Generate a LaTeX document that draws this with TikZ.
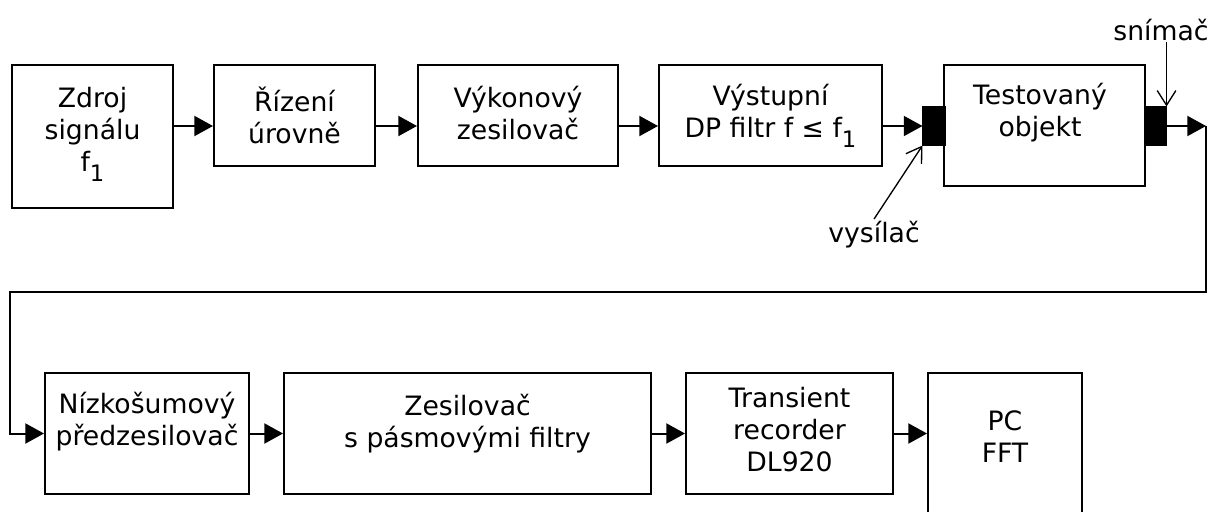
\documentclass[tikz,border=0pt]{standalone}
\usepackage{fontspec}
\setmainfont{DejaVu Sans}
\usetikzlibrary{arrows.meta}
% lowered full-height index "1"
\newcommand\subone{\raisebox{-7.5pt}{\fontsize{17}{17}\selectfont 1}}
\begin{document}
\begin{tikzpicture}[x=0.75pt,y=-0.75pt,
  box/.style={draw, line width=1.5pt, inner sep=0pt},
  sz/.style 2 args={minimum width=#1*0.75pt, minimum height=#2*0.75pt},
  txt/.style={align=center, inner sep=0pt, font=\fontsize{20}{24}\selectfont},
  lbl/.style={inner sep=1pt, font=\fontsize{20}{24}\selectfont},
  transducer/.style={fill=black, draw=black, line width=0.8pt, inner sep=0pt},
  flow/.style={line width=1.5pt, -{Triangle[length=14pt,width=15pt]}},
  wire/.style={line width=1.5pt},
  pointer/.style={line width=1pt, -{Straight Barb[length=11pt,width=14pt]}}]

\path[use as bounding box] (0,0) rectangle (1213,511);
\clip (0,0) rectangle (1213,511);

% upper chain
\node[box, sz={161}{143}] (b1) at (92.5,136.5) {};
\node[txt] (t1) at (92.5,134) {Zdroj\\signálu\\f\subone};

\node[box, sz={161}{101}] (b2) at (294.5,115.5) {};
\node[txt] (t2) at (b2.center) {Řízení\\úrovně};

\node[box, sz={200}{101}] (b3) at (518,115.5) {};
\node[txt] (t3) at (518,113) {Výkonový\\zesilovač};

\node[box, sz={223}{101}] (b4) at (770.5,115.5) {};
\node[txt] (t4) at (770.5,116) {Výstupní\\DP filtr f ≤ f\subone};

\node[transducer, sz={22}{38}] (tx) at (934,126) {};
\node[box, sz={201}{121}] (b5) at (1044.5,125.5) {};
\node[txt] (t5) at (1040,113) {Testovaný\\objekt};
\node[transducer, sz={21}{38}] (rx) at (1155.5,126) {};

\coordinate (row1) at (0,126);
\draw[flow] (b1.east |- row1) -- (b2.west |- row1);
\draw[flow] (b2.east |- row1) -- (b3.west |- row1);
\draw[flow] (b3.east |- row1) -- (b4.west |- row1);
\draw[flow] (b4.east |- row1) -- (tx.west);

% transducer labels
\node[lbl, anchor=base] (vys) at (874,242) {vysílač};
\node[lbl, anchor=base] (sni) at (1161,40) {snímač};
\draw[pointer] (vys.north) -- (tx.south west);
\draw[pointer] (sni.south -| rx.north east) -- (rx.north east);

% lower chain
\node[box, sz={204}{121}] (c1) at (147,433.5) {};
\node[txt] (u1) at (147,422) {Nízkošumový\\předzesilovač};

\node[box, sz={367}{121}] (c2) at (467.5,433.5) {};
\node[txt] (u2) at (467.5,424) {Zesilovač\\s pásmovými filtry};

\node[box, sz={207}{121}] (c3) at (789.5,433.5) {};
\node[txt] (u3) at (789.5,430) {Transient\\recorder\\DL920};

\node[box, sz={154}{167}] (c4) at (1005,456.5) {};
\node[txt] (u4) at (1005,437) {PC\\FFT};

% return path from the sensor to the lower chain
\coordinate (k1) at (1206,126);
\coordinate (k2) at (1206,292);
\coordinate (k3) at (10,292);
\coordinate (k4) at (k3 |- c1.west);
\draw[flow] (rx.east) -- (k1);
\draw[flow] (k1) -- (k2) -- (k3) -- (k4) -- (c1.west);

\draw[flow] (c1.east) -- (c2.west);
\draw[flow] (c2.east) -- (c3.west);
\draw[flow] (c3.east) -- (c4.west |- c3.east);
\end{tikzpicture}
\end{document}
